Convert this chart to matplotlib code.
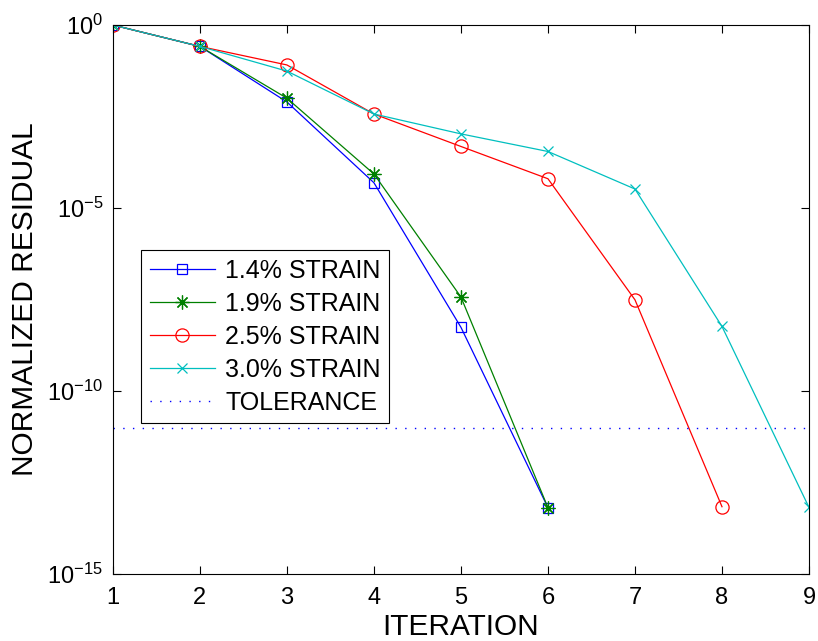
import matplotlib
matplotlib.use("Agg")
import matplotlib.pyplot as plt
import numpy as np

plt.rcParams['font.family'] = ['Liberation Sans', 'DejaVu Sans']
plt.rcParams['mathtext.fontset'] = 'custom'
plt.rcParams['mathtext.rm'] = 'Liberation Sans'
plt.rcParams['mathtext.it'] = 'Liberation Sans'
plt.rcParams['mathtext.default'] = 'regular'

# Convergence history of the Newton iterations for each strain level
iter_14 = [1, 2, 3, 4, 5, 6]
res_14 = [1.0, 2.6e-1, 7.9e-3, 4.9e-5, 5.5e-9, 6.5e-14]

iter_19 = [1, 2, 3, 4, 5, 6]
res_19 = [1.0, 2.6e-1, 1.0e-2, 8.5e-5, 3.7e-8, 6.5e-14]

iter_25 = [1, 2, 3, 4, 5, 6, 7, 8]
res_25 = [1.0, 2.6e-1, 8.1e-2, 3.7e-3, 4.8e-4, 6.3e-5, 3.1e-8, 6.9e-14]

iter_30 = [1, 2, 3, 4, 5, 6, 7, 8, 9]
res_30 = [1.0, 2.6e-1, 5.5e-2, 3.7e-3, 1.06e-3, 3.5e-4, 3.3e-5, 5.8e-9, 6.6e-14]

tolerance = 1e-11

series_labels = ['1.4% STRAIN', '1.9% STRAIN', '2.5% STRAIN', '3.0% STRAIN']
x_ticks = [1, 2, 3, 4, 5, 6, 7, 8, 9]
y_ticks = [1e-15, 1e-10, 1e-5, 1e0]
y_tick_labels = [r'$10^{-15}$', r'$10^{-10}$', r'$10^{-5}$', r'$10^{0}$']

fig = plt.figure(figsize=(8.18, 6.41), dpi=100)
ax = fig.add_axes([0.138, 0.1045, 0.851, 0.8565])

lw = 0.9
ax.semilogy(iter_14, res_14, color='#0000ff', lw=lw, marker='s', ms=7.5,
            mfc='none', mew=lw, label=series_labels[0])
ax.semilogy(iter_19, res_19, color='#008000', lw=lw, marker=(8, 2, 0), ms=10,
            mfc='none', mew=lw, label=series_labels[1])
ax.semilogy(iter_25, res_25, color='#ff0000', lw=lw, marker='o', ms=9.5,
            mfc='none', mew=lw, label=series_labels[2])
ax.semilogy(iter_30, res_30, color='#00bfbf', lw=lw, marker='x', ms=7.5,
            mfc='none', mew=lw, label=series_labels[3])
ax.axhline(tolerance, color='#0000ff', lw=1.0, dashes=(1.0, 6.0),
           label='TOLERANCE')

ax.set_xlim(1, 9)
ax.set_ylim(1e-15, 1e0)
ax.set_xticks(x_ticks)
ax.set_xticklabels([str(t) for t in x_ticks])
ax.set_yticks(y_ticks)
ax.set_yticklabels(y_tick_labels)
ax.minorticks_off()
ax.tick_params(direction='in', length=6, width=0.8, top=True, right=True,
               labelsize=17, pad=9)
ax.tick_params(axis='y', pad=7)
for s in ax.spines.values():
    s.set_linewidth(0.8)

ax.set_xlabel('ITERATION', fontsize=21.5, labelpad=3)
ax.set_ylabel('NORMALIZED RESIDUAL', fontsize=21.5, labelpad=6)

leg = ax.legend(loc='upper left', bbox_to_anchor=(0.0402, 0.5905), fontsize=18,
                frameon=True, fancybox=False, edgecolor='black',
                framealpha=1, handlelength=2.6, handletextpad=0.42,
                labelspacing=0.36, borderpad=0.35, borderaxespad=0)
leg.get_frame().set_linewidth(0.8)

fig.savefig('out.png', dpi=100)
